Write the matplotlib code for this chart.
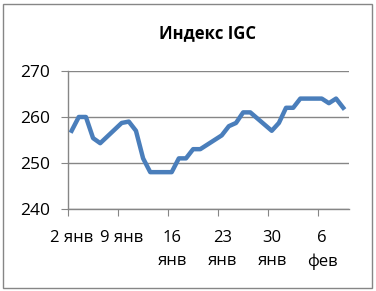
import matplotlib.pyplot as plt
from matplotlib.patches import Rectangle
from matplotlib.transforms import ScaledTranslation

plt.rcParams['font.family'] = ['Open Sans', 'DejaVu Sans']

# trading days counted from 2 Jan, values of the index
days = [0, 1, 2, 3, 4, 7, 8, 9, 10, 11, 14, 15, 16, 17, 18, 21, 22, 23, 24, 25,
        28, 29, 30, 31, 32, 35, 36, 37, 38]
values = [257, 260, 260, 255.4, 254.3, 258.7, 259, 257, 251, 248, 248, 251, 251,
          253, 253, 256, 258, 258.7, 261, 261, 257, 258.7, 262, 262, 264, 264,
          263, 264, 262]
tick_days = [0, 7, 14, 21, 28, 35]
tick_labels = ['2 янв', '9 янв', '16\nянв', '23\nянв', '30\nянв', '6\nфев']
y_ticks = [240, 250, 260, 270]

fig = plt.figure(figsize=(3.76, 2.91), dpi=100)
ax = fig.add_axes([0.181, 0.282, 0.747, 0.474])

x = [d + 0.5 for d in days]
ax.plot(x, values, color='#4A7EBB', linewidth=3.2, solid_joinstyle='round')

ax.set_xlim(0, 39.3)
ax.set_ylim(240, 270)
ax.set_yticks(y_ticks)
ax.set_xticks(tick_days)
ax.set_xticklabels(tick_labels, fontsize=12, linespacing=1.6, va='top')
ax.tick_params(axis='y', labelsize=12.5, length=5, color='#868686', pad=8)
ax.tick_params(axis='x', length=5, color='#868686', pad=10)
shift = ScaledTranslation(4 / 100, 0, fig.dpi_scale_trans)
for lbl in ax.get_xticklabels():
    lbl.set_transform(lbl.get_transform() + shift)

ax.grid(axis='y', color='#868686', linewidth=1)
ax.set_axisbelow(True)
for s in ['top', 'right']:
    ax.spines[s].set_visible(False)
for s in ['left', 'bottom']:
    ax.spines[s].set_color('#868686')
    ax.spines[s].set_linewidth(1)

fig.text(0.551, 0.885, 'Индекс IGC', ha='center', va='center',
         fontsize=12, fontweight='bold')

fig.patches.append(Rectangle((0.008, 0.012), 0.982, 0.975, transform=fig.transFigure,
                             fill=False, edgecolor='#868686', linewidth=1))

fig.savefig('out.png', dpi=100)
